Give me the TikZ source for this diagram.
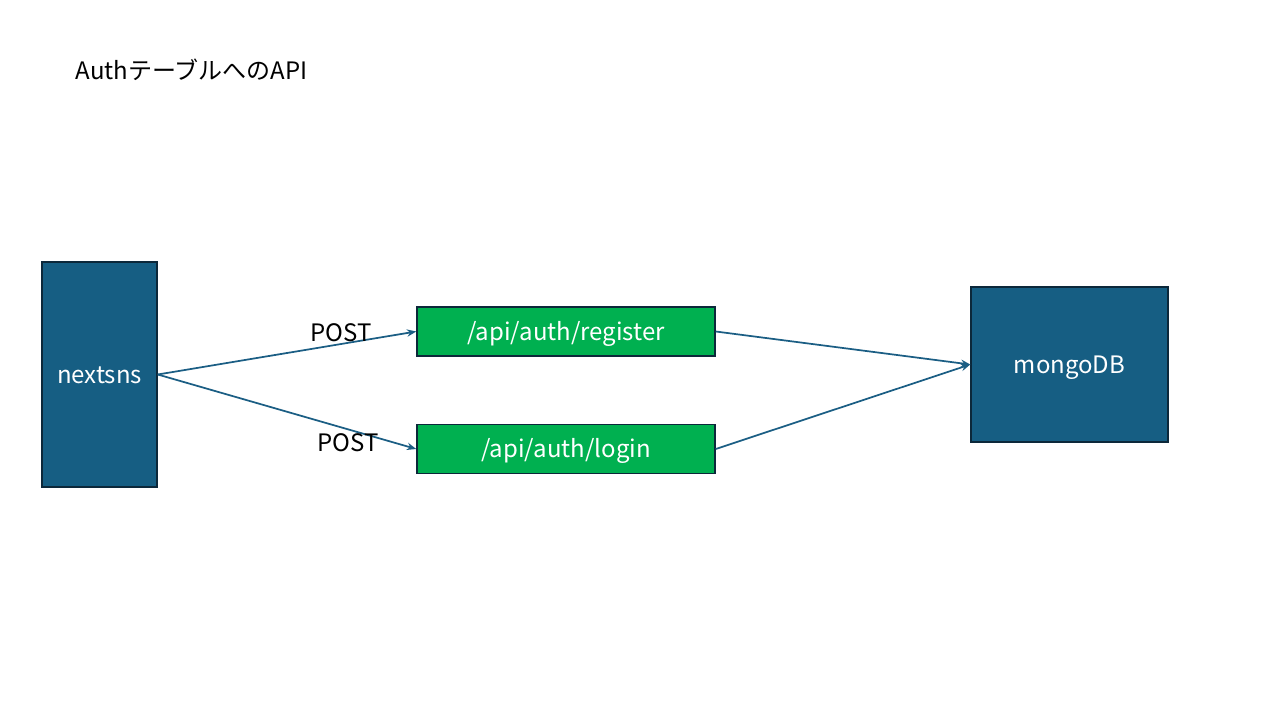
\documentclass[tikz,border=0pt]{standalone}
\usepackage{fontspec}
\setmainfont{Noto Sans CJK JP}
\usetikzlibrary{positioning,arrows.meta}
\definecolor{appblue}{RGB}{22,94,131}
\definecolor{edgeblue}{RGB}{12,40,58}
\definecolor{apigreen}{RGB}{0,176,80}
\definecolor{linkblue}{RGB}{27,94,132}
\tikzset{
  cl/.style={rectangle, minimum width=86.25pt, minimum height=168.75pt, text centered, text height=16pt, text depth=3pt, draw=edgeblue, fill=appblue, text=white, line width=1.1pt},
  ep/.style={rectangle, minimum width=223.5pt, minimum height=36.75pt, text centered, text height=16pt, text depth=3pt, draw=edgeblue, fill=apigreen, text=white, line width=1.1pt},
  db/.style={rectangle, minimum width=147.75pt, minimum height=116.25pt, text centered, text height=16pt, text depth=3pt, draw=edgeblue, fill=appblue, text=white, line width=1.1pt},
  lk/.style={-{Stealth[length=7pt,width=5.5pt]}, draw=linkblue, line width=1.3pt},
  lb/.style={font=\fontsize{18}{22}\selectfont, text=black}
}

\begin{document}
\begin{tikzpicture}[x=0.75pt,y=-0.75pt, every node/.style={font=\fontsize{18}{22}\selectfont}]
	\useasboundingbox (0,0) rectangle (1280,720);
	\node[anchor=west, lb] (title) at (71,70) {AuthテーブルへのAPI};
	%
	\node[cl] (nextsns) at (99.5,374.5) {nextsns};
	\node[ep] (register) at (566,331.5) {/api/auth/register};
	\node[ep] (login) at (566,449) {/api/auth/login};
	\node[db] (mongo) at (1069.5,364.5) {mongoDB};
	%
	\draw[lk] (nextsns.east) -- (register.west);
	\draw[lk] (nextsns.east) -- (login.west);
	\draw[lk] (register.east) -- (mongo.west);
	\draw[lk] (login.east) -- (mongo.west);
	\node[lb] (post1) at (341,333) {POST};
	\node[lb] (post2) at (348,443) {POST};
\end{tikzpicture}
\end{document}
